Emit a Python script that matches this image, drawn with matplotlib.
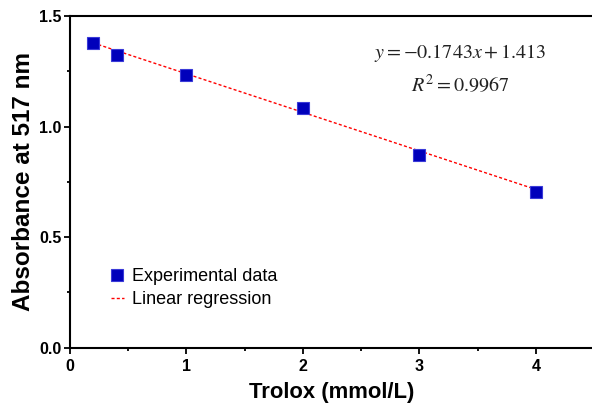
import matplotlib
matplotlib.use("Agg")
import matplotlib.pyplot as plt
from matplotlib.ticker import MultipleLocator
import numpy as np

# Data
trolox = [0.2, 0.4, 1.0, 2.0, 3.0, 4.0]
absorbance = [1.377, 1.324, 1.233, 1.083, 0.872, 0.703]
slope = -0.1743
intercept = 1.413
r2 = 0.9967
x_ticks = [0, 1, 2, 3, 4]
y_ticks = [0.0, 0.5, 1.0, 1.5]

plt.rcParams['font.family'] = ['Liberation Sans', 'DejaVu Sans']
plt.rcParams['mathtext.fontset'] = 'stix'

fig = plt.figure(figsize=(5.92, 4.04), dpi=100)
ax = fig.add_axes([70 / 592, 1 - 347.7 / 404, 524 / 592, 331.7 / 404])

xfit = np.array([trolox[0], trolox[-1]])
yfit = slope * xfit + intercept
ax.plot(xfit, yfit, linestyle=(0, (2.2, 1.6)), color='#ff0000', lw=1.0,
        label='Linear regression', zorder=2)
ax.plot(trolox, absorbance, linestyle='none', marker='s', markersize=8.6,
        markerfacecolor='#0000BB', markeredgecolor='#3a3ad8', markeredgewidth=0.8,
        label='Experimental data', zorder=3)

ax.set_xlim(0, 4.5)
ax.set_ylim(0, 1.5)
ax.set_xticks(x_ticks)
ax.set_yticks(y_ticks)
ax.set_xticklabels([str(t) for t in x_ticks])
ax.set_yticklabels([f"{t:.1f}" for t in y_ticks])
ax.xaxis.set_minor_locator(MultipleLocator(0.5))
ax.yaxis.set_minor_locator(MultipleLocator(0.25))

for s in ['left', 'bottom', 'top']:
    ax.spines[s].set_linewidth(1.5)
ax.spines['right'].set_visible(False)
ax.tick_params(which='major', direction='out', length=4.2, width=1.3, labelsize=11.5, pad=2)
ax.tick_params(which='minor', direction='out', length=2.5, width=1.3)
ax.tick_params(axis='x', which='major', pad=4)
ax.tick_params(top=False, which='both')
for lab in ax.get_xticklabels() + ax.get_yticklabels():
    lab.set_fontweight('bold')

ax.set_xlabel('Trolox (mmol/L)', fontsize=15.8, fontweight='bold', labelpad=6)
ax.set_ylabel('Absorbance at 517 nm', fontsize=17.5, fontweight='bold', labelpad=3)

handles, labels = ax.get_legend_handles_labels()
leg = ax.legend(handles[::-1], labels[::-1], loc='upper left',
                bbox_to_anchor=(111 / 592, 1 - 268 / 404), bbox_transform=fig.transFigure,
                frameon=False, fontsize=13, handlelength=0.7, handletextpad=0.45,
                labelspacing=0.35, borderpad=0, borderaxespad=0, markerscale=1.0)

fig.text(460 / 592, 1 - 53 / 404, r'$y = -0.1743x + 1.413$', fontsize=14.5,
         ha='center', va='center', color='#222222')
fig.text(460 / 592, 1 - 85 / 404, r'$R^2 = 0.9967$', fontsize=14.5,
         ha='center', va='center', color='#222222')

fig.savefig('out.png', dpi=100)
